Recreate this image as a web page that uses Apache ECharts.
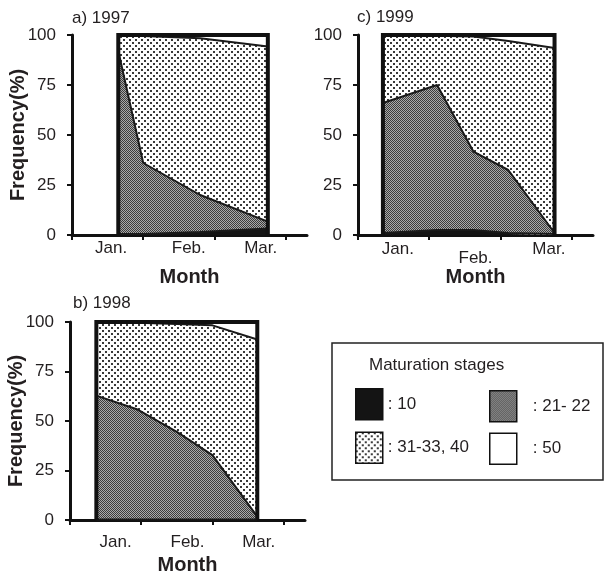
<!DOCTYPE html>
<html><head><meta charset="utf-8">
<script src="https://cdn.jsdelivr.net/npm/echarts@6/dist/echarts.min.js"></script>
<style>html,body{margin:0;padding:0;background:#fff}#c{width:604px;height:576px}</style>
</head><body><div id="c"></div>
<script>
// ---- data ----
const months = ['Jan.', 'Feb.', 'Mar.'];
const stageNames = ['10', '21- 22', '31-33, 40', '50'];
const yTicks = [0, 25, 50, 75, 100];
const panelTitles = ['a) 1997', 'b) 1998', 'c) 1999'];

// x positions in month units (0 = start of Jan.)
const x1997 = [0.65, 1.0, 1.8, 2.75];
const s10_1997 = [0.5, 0.5, 1.5, 3.3];
const s21_1997 = [91.5, 35.5, 18.5, 3.4];
const s31_1997 = [8, 63.5, 78.4, 87.5];
const s50_1997 = [0, 0.5, 1.6, 5.8];

const x1998 = [0.37, 0.95, 1.5, 2.0, 2.63];
const s10_1998 = [0.3, 0.3, 0.3, 0.3, 0.3];
const s21_1998 = [62.5, 55.5, 44.2, 32.5, 1.4];
const s31_1998 = [37.2, 43.8, 54.5, 65.5, 89.5];
const s50_1998 = [0, 0.4, 1, 1.7, 8.8];

const x1999 = [0.35, 1.11, 1.62, 2.11, 2.76];
const s10_1999 = [1, 2.5, 2.5, 1, 0.5];
const s21_1999 = [65, 72.5, 39.2, 31.5, 0.5];
const s31_1999 = [34, 24.6, 57.5, 64.5, 92.5];
const s50_1999 = [0, 0.4, 0.8, 3, 6.5];

// ---- patterns ----
function makePattern(size, bg, dots, dotColor, dotSize) {
  const cv = document.createElement('canvas');
  cv.width = size; cv.height = size;
  const ctx = cv.getContext('2d');
  ctx.fillStyle = bg; ctx.fillRect(0, 0, size, size);
  ctx.fillStyle = dotColor;
  dots.forEach(d => ctx.fillRect(d[0], d[1], dotSize, dotSize));
  return { image: cv, repeat: 'repeat' };
}
const lightPat = makePattern(6, '#ffffff', [[0, 0], [3, 3]], '#3a3a3a', 2);
const darkPat = makePattern(2, '#aaaaaa', [[0, 0], [1, 1]], '#3c3c3c', 1);
const fills = ['#141414', darkPat, lightPat, '#ffffff'];

const FONT = 'Liberation Sans, Arial, sans-serif';
const TXT = '#231f20';

const panels = [
  { xs: x1997, st: [s10_1997, s21_1997, s31_1997, s50_1997], grid: { left: 72, top: 35 }, yName: true,
    labelPos: [0.55, 1.64, 2.65], labelMargin: 5, nameGap: 32, lowLabel: -1 },
  { xs: x1998, st: [s10_1998, s21_1998, s31_1998, s50_1998], grid: { left: 70, top: 322 }, yName: true,
    labelPos: [0.64, 1.65, 2.65], labelMargin: 14, nameGap: 35, lowLabel: -1 },
  { xs: x1999, st: [s10_1999, s21_1999, s31_1999, s50_1999], grid: { left: 358, top: 35 }, yName: false,
    labelPos: [0.56, 1.65, 2.68], labelMargin: 6, nameGap: 32, lowLabel: 1 }
];
const titlePos = [{ left: 72, top: 10 }, { left: 73, top: 295 }, { left: 357, top: 9 }];

const option = {
  animation: false,
  textStyle: { fontFamily: FONT },
  title: panelTitles.map((t, i) => ({
    text: t, left: titlePos[i].left, top: titlePos[i].top, padding: 0,
    textStyle: { fontSize: 17, fontWeight: 'normal', color: TXT, fontFamily: FONT }
  })),
  grid: panels.map(p => ({ left: p.grid.left, top: p.grid.top, width: 235, height: 200 })),
  xAxis: panels.map((p, i) => ({
    type: 'value', gridIndex: i, min: 0, max: 3.3,
    name: 'Month', nameLocation: 'middle', nameGap: p.nameGap, nameMoveOverlap: false,
    nameTextStyle: { fontSize: 20, fontWeight: 'bold', color: TXT, fontFamily: FONT },
    axisLine: { show: true, onZero: false, lineStyle: { color: '#111', width: 3 } },
    axisTick: { show: true, customValues: [0, 1, 2, 3], length: 5, lineStyle: { color: '#111', width: 2 } },
    axisLabel: {
      customValues: p.labelPos, margin: p.labelMargin, fontSize: 17, color: TXT, fontFamily: FONT,
      formatter: function (v) {
        let k = 0;
        p.labelPos.forEach((q, j) => { if (Math.abs(q - v) < 1e-6) k = j; });
        return k === p.lowLabel ? '{lo|' + months[k] + '}' : months[k];
      },
      rich: { lo: { fontSize: 17, color: TXT, fontFamily: FONT, padding: [9, 0, 0, 0] } }
    },
    splitLine: { show: false }
  })),
  yAxis: panels.map((p, i) => ({
    type: 'value', gridIndex: i, min: yTicks[0], max: yTicks[yTicks.length - 1], interval: yTicks[1] - yTicks[0],
    name: p.yName ? 'Frequency(%)' : '', nameLocation: 'middle', nameGap: 44, nameMoveOverlap: false,
    nameTextStyle: { fontSize: 20, fontWeight: 'bold', color: TXT, fontFamily: FONT },
    axisLine: { show: true, lineStyle: { color: '#111', width: 3 } },
    axisTick: { show: true, length: 5, lineStyle: { color: '#111', width: 2 } },
    axisLabel: { fontSize: 17, color: TXT, margin: 16, fontFamily: FONT },
    splitLine: { show: false }
  })),
  legend: [
    { left: 350, top: 383, orient: 'vertical', itemWidth: 27, itemHeight: 31, itemGap: 11, selectedMode: false,
      icon: 'rect', formatter: n => ': ' + n,
      textStyle: { fontSize: 17, color: TXT, fontFamily: FONT },
      data: [
        { name: stageNames[0], icon: 'rect', itemStyle: { color: fills[0], borderColor: '#111', borderWidth: 1.5 } },
        { name: stageNames[2], icon: 'rect', itemStyle: { color: fills[2], borderColor: '#111', borderWidth: 1.5 } }
      ] },
    { left: 484, top: 385, orient: 'vertical', itemWidth: 27, itemHeight: 31, itemGap: 10, selectedMode: false,
      icon: 'rect', formatter: n => ': ' + n,
      textStyle: { fontSize: 17, color: TXT, fontFamily: FONT, padding: [0, 0, 0, 11] },
      data: [
        { name: stageNames[1], icon: 'rect', itemStyle: { color: fills[1], borderColor: '#111', borderWidth: 1.5 } },
        { name: stageNames[3], icon: 'rect', itemStyle: { color: fills[3], borderColor: '#111', borderWidth: 1.5 } }
      ] }
  ],
  graphic: [
    { type: 'rect', shape: { x: 332, y: 343, width: 271, height: 137 },
      style: { fill: 'none', stroke: '#222', lineWidth: 1.5 } },
    { type: 'text', left: 369, top: 357,
      style: { text: 'Maturation stages', fontSize: 17, fill: TXT, fontFamily: FONT } }
  ],
  series: []
};

panels.forEach((p, i) => {
  // cumulative boundaries: each stage area filled from 0 up to the running total,
  // drawn so that lower stages cover higher ones
  const cum = [];
  p.st.forEach((vals, k) => {
    cum.push(vals.map((v, j) => (k ? cum[k - 1][j] : 0) + v));
  });
  p.st.forEach((vals, k) => {
    option.series.push({
      type: 'line', name: stageNames[k], xAxisIndex: i, yAxisIndex: i,
      symbol: 'none', silent: true,
      data: p.xs.map((x, j) => [x, cum[k][j]]),
      lineStyle: { color: '#1a1a1a', width: 2 },
      areaStyle: { color: fills[k], opacity: 1, origin: 'start' },
      itemStyle: { color: fills[k] },
      z: 8 - k
    });
  });
  const x0 = p.xs[0], x1 = p.xs[p.xs.length - 1];
  option.series.push({
    type: 'line', name: 'frame' + i, xAxisIndex: i, yAxisIndex: i, symbol: 'none', silent: true,
    data: [[x0, 0], [x0, 100], [x1, 100], [x1, 0]],
    lineStyle: { color: '#111', width: 4, join: 'miter' }, z: 10
  });
});

const chart = echarts.init(document.getElementById('c'), null, { renderer: 'canvas' });
chart.setOption(option);
</script></body></html>
